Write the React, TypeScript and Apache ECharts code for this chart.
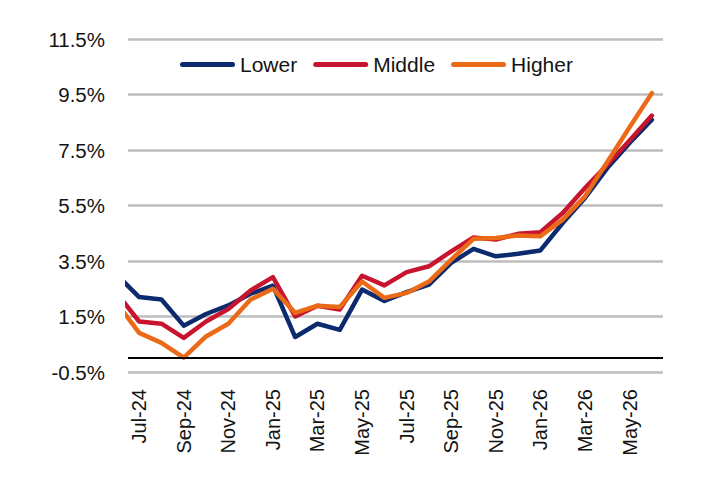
import React, { useEffect, useRef } from 'react';
import * as echarts from 'echarts';

// Monthly points; the first (Jun-24) lies just left of the plotted window and is clipped.
const months = [
  'Jun-24', 'Jul-24', 'Aug-24', 'Sep-24', 'Oct-24', 'Nov-24', 'Dec-24',
  'Jan-25', 'Feb-25', 'Mar-25', 'Apr-25', 'May-25', 'Jun-25', 'Jul-25',
  'Aug-25', 'Sep-25', 'Oct-25', 'Nov-25', 'Dec-25', 'Jan-26', 'Feb-26',
  'Mar-26', 'Apr-26', 'May-26', 'Jun-26',
];

const lower = [
  3.0, 2.2, 2.11, 1.17, 1.59, 1.9, 2.32, 2.61, 0.76, 1.24, 1.02, 2.47, 2.06,
  2.38, 2.65, 3.43, 3.94, 3.67, 3.76, 3.88, 4.87, 5.77, 6.85, 7.75, 8.59,
];

const middle = [
  2.33, 1.32, 1.24, 0.73, 1.32, 1.77, 2.44, 2.92, 1.5, 1.89, 1.75, 2.97, 2.62,
  3.1, 3.31, 3.85, 4.35, 4.27, 4.48, 4.54, 5.23, 6.13, 6.97, 7.84, 8.74,
];

const higher = [
  1.98, 0.91, 0.55, 0.02, 0.78, 1.24, 2.11, 2.5, 1.63, 1.89, 1.84, 2.76, 2.17,
  2.35, 2.76, 3.55, 4.3, 4.33, 4.42, 4.39, 4.99, 5.83, 7.07, 8.32, 9.55,
];

const seriesNames = ['Lower', 'Middle', 'Higher'];
const seriesColors = ['#0C2B6E', '#C8152F', '#EB6A17'];
const yMin = -0.5;
const yMax = 11.5;
const yStep = 2;

const FONT = "'Liberation Sans', Arial, sans-serif";
const TEXT = '#141414';

export default function App() {
  const ref = useRef<HTMLDivElement>(null);

  useEffect(() => {
    if (!ref.current) return;
    const chart = echarts.init(ref.current, null, { renderer: 'svg' });
    const axisMonths = months.slice(1);
    const toPoints = (vals: number[]) => vals.map((v, i) => [i - 1, v]);
    const allValues = [lower, middle, higher];

    chart.setOption({
      animation: false,
      grid: { left: 128, right: 41, top: 39, bottom: 110 },
      legend: {
        data: seriesNames,
        left: 180,
        top: 54,
        padding: 0,
        itemWidth: 55,
        itemHeight: 5,
        itemGap: 16,
        icon: 'path://M2.5,0 H52.5 A2.5,2.5 0 0 1 52.5,5 H2.5 A2.5,2.5 0 0 1 2.5,0 Z',
        textStyle: { fontSize: 21, color: TEXT, fontFamily: FONT },
      },
      xAxis: [
        {
          type: 'category',
          data: axisMonths,
          boundaryGap: true,
          axisLine: { show: false },
          axisTick: { show: false },
          splitLine: { show: false },
          axisLabel: {
            interval: 1,
            rotate: 90,
            margin: 17,
            fontSize: 20,
            color: TEXT,
            fontFamily: FONT,
          },
        },
        {
          type: 'value',
          min: -0.5,
          max: axisMonths.length - 0.5,
          show: false,
          position: 'bottom',
        },
      ],
      yAxis: {
        type: 'value',
        min: yMin,
        max: yMax,
        interval: yStep,
        axisLine: { show: false },
        axisTick: { show: false },
        splitLine: { lineStyle: { color: '#BEBEBE', width: 2.5 } },
        axisLabel: {
          margin: 23,
          fontSize: 20.5,
          color: TEXT,
          fontFamily: FONT,
          formatter: (v: number) => v.toFixed(1) + '%',
        },
      },
      series: seriesNames.map((name, k) => ({
        name,
        type: 'line',
        xAxisIndex: 1,
        data: toPoints(allValues[k]),
        symbol: 'none',
        showSymbol: false,
        clip: true,
        color: seriesColors[k],
        lineStyle: { color: seriesColors[k], width: 4.5, cap: 'round', join: 'round' },
        ...(k === 0
          ? {
              markLine: {
                silent: true,
                symbol: ['none', 'none'],
                label: { show: false },
                lineStyle: { color: '#000', width: 2, type: 'solid' },
                data: [{ yAxis: 0 }],
              },
            }
          : {}),
      })),
    });

    return () => chart.dispose();
  }, []);

  return (
    <div
      ref={ref}
      style={{ position: 'absolute', left: 0, top: 0, width: 704, height: 482 }}
    />
  );
}
